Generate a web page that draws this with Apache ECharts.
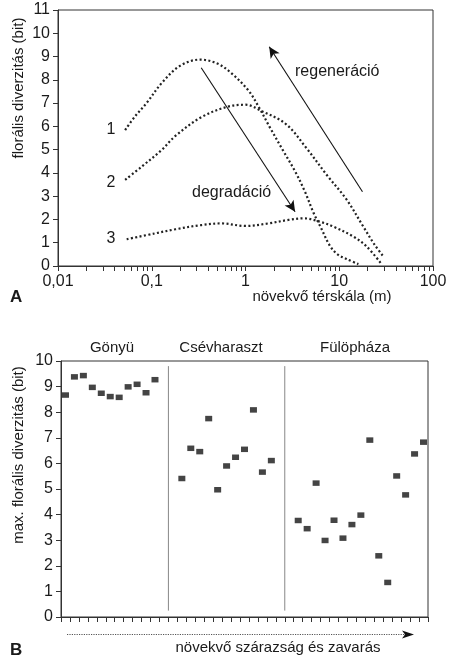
<!DOCTYPE html>
<html>
<head>
<meta charset="utf-8">
<script src="https://cdn.jsdelivr.net/npm/echarts@6/dist/echarts.min.js"></script>
<style>
html,body{margin:0;padding:0;background:#fff;}
#c{width:451px;height:664px;}
</style>
</head>
<body>
<div id="c"></div>
<script>
// ---------- Data: panel A ----------
const curve1 = [[0.052,5.84],[0.066,6.42],[0.088,7.0],[0.127,7.85],[0.2,8.6],[0.33,8.87],[0.5,8.7],[0.7,8.3],[1.07,7.55],[1.4,6.8],[1.8,5.99],[2.5,4.98],[3.4,4.05],[4.3,3.2],[5.3,2.3],[6.3,1.69],[8.0,0.85],[9.6,0.5],[12,0.3],[16,0.08]];
const curve2 = [[0.052,3.7],[0.078,4.27],[0.127,4.98],[0.18,5.6],[0.34,6.4],[0.65,6.85],[1.0,6.93],[1.5,6.65],[2.7,6.1],[4.4,5.1],[7.4,3.9],[12,2.85],[18,1.7],[23.5,0.95],[29,0.45]];
const curve3 = [[0.054,1.15],[0.108,1.4],[0.18,1.58],[0.34,1.76],[0.55,1.83],[1.0,1.72],[1.75,1.83],[2.87,1.98],[4.2,2.05],[6.25,1.9],[8.7,1.69],[14.2,1.26],[19.7,0.83],[28,0.1]];
const degradArrow = [[0.337,8.52],[3.38,2.33]];
const regenArrow = [[17.7,3.19],[1.79,9.42]];
const xTickLabelsA = {0.01:'0,01',0.1:'0,1',1:'1',10:'10',100:'100'};

// ---------- Data: panel B ----------
const siteNames = ['Gönyü','Csévharaszt','Fülöpháza'];
const gonyu = [8.67,9.38,9.43,8.97,8.74,8.61,8.58,8.99,9.09,8.76,9.27];
const csevharaszt = [5.41,6.59,6.46,7.75,4.97,5.90,6.24,6.55,8.09,5.66,6.11];
const fulophaza = [3.77,3.45,5.23,2.99,3.78,3.08,3.61,3.98,6.91,2.39,1.35,5.51,4.77,6.37,6.83];
const siteStart = [0,13,26];   // first category of each site
const separatorPos = [12,25];  // category boundaries between sites
const nCategories = 41;

const FONT = '"Liberation Sans", Arial, sans-serif';
const INK = '#1a1a1a';

const categoriesB = [];
for (let i = 0; i < nCategories; i++) categoriesB.push(String(i));
const scatterB = [];
[gonyu, csevharaszt, fulophaza].forEach((arr, s) => {
  arr.forEach((v, i) => scatterB.push([String(siteStart[s] + i), v]));
});

// log minor tick positions (2..9 in each decade)
const minorTicks = [];
for (let d = -2; d <= 1; d++) for (let k = 2; k <= 9; k++) minorTicks.push([k * Math.pow(10, d), 0]);

const dotted = {type:[2,2.4], width:2.2, color:'#222', cap:'butt'};
function curveSeries(data){
  return {type:'line', xAxisIndex:0, yAxisIndex:0, data:data, smooth:0.35, showSymbol:false, symbol:'none', lineStyle:dotted, silent:true, z:3};
}
function arrowLine(pts){
  return [{coord:pts[0]},{coord:pts[1]}];
}

const chart = echarts.init(document.getElementById('c'), null, {renderer:'canvas'});
chart.setOption({
  animation:false,
  textStyle:{fontFamily:FONT, color:INK},
  grid:[
    {left:58, top:10, width:375, height:256, show:true, borderColor:'#333', borderWidth:1, backgroundColor:'transparent'},
    {left:61, top:361, width:367, height:256, show:true, borderColor:'#333', borderWidth:1, backgroundColor:'transparent'}
  ],
  xAxis:[
    {type:'log', gridIndex:0, min:0.01, max:100, logBase:10, interval:1,
     axisLine:{lineStyle:{color:'#333', width:1}},
     axisTick:{show:true, length:5, lineStyle:{color:'#333'}},
     axisLabel:{fontSize:16, color:INK, fontFamily:FONT, margin:8, formatter:v=>xTickLabelsA[v] !== undefined ? xTickLabelsA[v] : String(v).replace('.',',')},
     splitLine:{show:false}},
    {type:'category', gridIndex:1, data:categoriesB, boundaryGap:true,
     axisLine:{lineStyle:{color:'#333', width:1}},
     axisTick:{show:true, length:5, interval:0, lineStyle:{color:'#333'}},
     axisLabel:{show:false}, splitLine:{show:false}},
    {type:'value', gridIndex:1, min:0, max:nCategories, show:false}
  ],
  yAxis:[
    {type:'value', gridIndex:0, min:0, max:11, interval:1,
     axisLine:{show:true, lineStyle:{color:'#333', width:1}},
     axisTick:{show:true, length:5, lineStyle:{color:'#333'}},
     axisLabel:{fontSize:16, color:INK, fontFamily:FONT, margin:8},
     splitLine:{show:false}},
    {type:'value', gridIndex:1, min:0, max:10, interval:1,
     axisLine:{show:true, lineStyle:{color:'#333', width:1}},
     axisTick:{show:true, length:5, lineStyle:{color:'#333'}},
     axisLabel:{fontSize:16, color:INK, fontFamily:FONT, margin:8},
     splitLine:{show:false}}
  ],
  series:[
    curveSeries(curve1),
    curveSeries(curve2),
    curveSeries(curve3),
    {type:'custom', xAxisIndex:0, yAxisIndex:0, data:minorTicks, clip:false, silent:true, z:5,
     renderItem:function(params, api){
       const p = api.coord([api.value(0), 0]);
       const x = Math.round(p[0]) + 0.5;
       return {type:'line', shape:{x1:x, y1:p[1], x2:x, y2:p[1] + 5}, style:{stroke:'#333', lineWidth:1}};
     }},
    {type:'line', xAxisIndex:0, yAxisIndex:0, data:[], silent:true,
     markLine:{silent:true, symbol:['none','arrow'], symbolSize:[8,11], label:{show:false},
       lineStyle:{color:'#111', width:1.1, type:'solid'},
       data:[arrowLine(degradArrow), arrowLine(regenArrow)]}},
    {type:'scatter', xAxisIndex:1, yAxisIndex:1, data:scatterB, symbol:'rect', symbolSize:[7,5.5],
     itemStyle:{color:'#151515'}, silent:true},
    {type:'line', xAxisIndex:2, yAxisIndex:1, data:[[separatorPos[0],0.25],[separatorPos[0],9.8]], showSymbol:false, symbol:'none', lineStyle:{color:'#888', width:1}, silent:true},
    {type:'line', xAxisIndex:2, yAxisIndex:1, data:[[separatorPos[1],0.25],[separatorPos[1],9.8]], showSymbol:false, symbol:'none', lineStyle:{color:'#888', width:1}, silent:true}
  ],
  graphic:[
    {type:'text', x:19, y:88, rotation:Math.PI/2, style:{text:'florális diverzitás (bit)', font:'15px '+FONT, fill:INK, align:'center', verticalAlign:'middle'}},
    {type:'text', x:19, y:455, rotation:Math.PI/2, style:{text:'max. florális diverzitás (bit)', font:'15px '+FONT, fill:INK, align:'center', verticalAlign:'middle'}},
    {type:'text', x:111, y:130, style:{text:'1', font:'16px '+FONT, fill:INK, align:'center', verticalAlign:'middle'}},
    {type:'text', x:111, y:183, style:{text:'2', font:'16px '+FONT, fill:INK, align:'center', verticalAlign:'middle'}},
    {type:'text', x:111, y:239, style:{text:'3', font:'16px '+FONT, fill:INK, align:'center', verticalAlign:'middle'}},
    {type:'text', x:295, y:72, style:{text:'regeneráció', font:'16px '+FONT, fill:INK, align:'left', verticalAlign:'middle'}},
    {type:'text', x:192, y:193, style:{text:'degradáció', font:'16px '+FONT, fill:INK, align:'left', verticalAlign:'middle'}},
    {type:'text', x:322, y:297, style:{text:'növekvő térskála (m)', font:'15px '+FONT, fill:INK, align:'center', verticalAlign:'middle'}},
    {type:'text', x:10, y:297, style:{text:'A', font:'bold 17px '+FONT, fill:INK, align:'left', verticalAlign:'middle'}},
    {type:'text', x:112, y:348, style:{text:siteNames[0], font:'15px '+FONT, fill:INK, align:'center', verticalAlign:'middle'}},
    {type:'text', x:221, y:348, style:{text:siteNames[1], font:'15px '+FONT, fill:INK, align:'center', verticalAlign:'middle'}},
    {type:'text', x:355, y:348, style:{text:siteNames[2], font:'15px '+FONT, fill:INK, align:'center', verticalAlign:'middle'}},
    {type:'line', shape:{x1:67, y1:634.5, x2:406, y2:634.5}, style:{stroke:'#555', lineWidth:1, lineDash:[1.2,1.2]}},
    {type:'polygon', shape:{points:[[402,630.5],[414,634.5],[402,638.5],[405,634.5]]}, style:{fill:'#111'}},
    {type:'text', x:278, y:648, style:{text:'növekvő szárazság és zavarás', font:'15px '+FONT, fill:INK, align:'center', verticalAlign:'middle'}},
    {type:'text', x:10, y:650, style:{text:'B', font:'bold 17px '+FONT, fill:INK, align:'left', verticalAlign:'middle'}}
  ]
});
</script>
</body>
</html>
